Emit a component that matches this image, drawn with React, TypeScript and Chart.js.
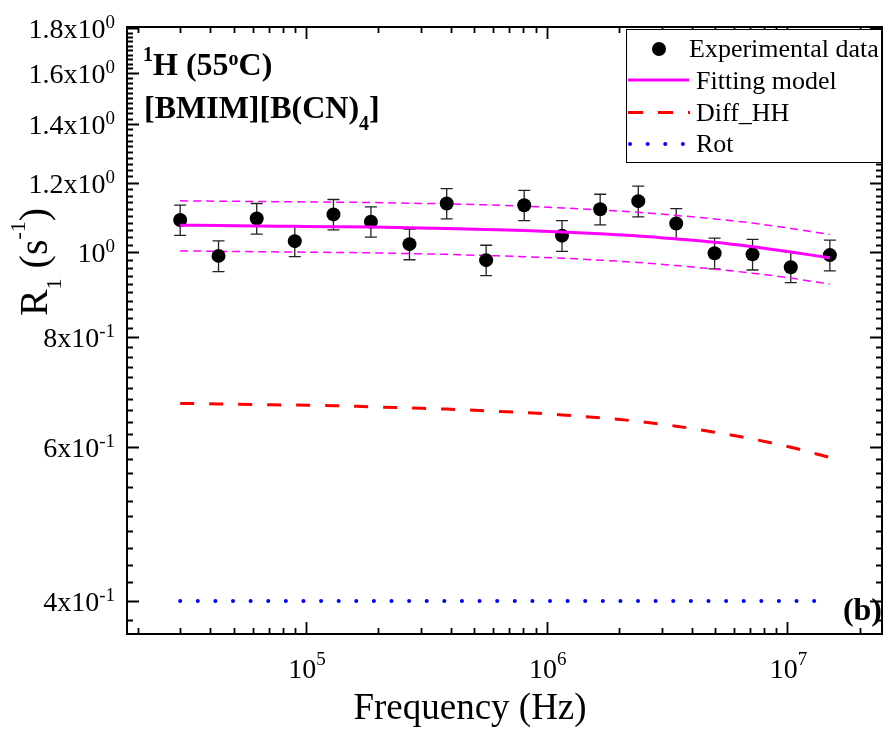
import React, { useEffect, useRef } from "react";
import { Chart, registerables } from "chart.js";

Chart.register(...registerables);

// ---- data ----
const frequencies = [3.0e4, 4.33e4, 6.24e4, 8.98e4, 1.3e5, 1.86e5, 2.69e5, 3.84e5, 5.6e5, 8.06e5, 1.157e6, 1.667e6, 2.4e6, 3.45e6, 4.98e6, 7.16e6, 1.032e7, 1.5e7];
const experimental = [1.088, 0.99, 1.092, 1.029, 1.104, 1.083, 1.021, 1.136, 0.979, 1.131, 1.044, 1.119, 1.143, 1.078, 0.997, 0.994, 0.961, 0.992];
const experimentalError = [0.043, 0.04, 0.044, 0.041, 0.044, 0.043, 0.041, 0.045, 0.039, 0.045, 0.042, 0.045, 0.046, 0.043, 0.04, 0.04, 0.038, 0.04];
const fittingModel = [1.073, 1.072, 1.071, 1.07, 1.069, 1.068, 1.066, 1.064, 1.061, 1.058, 1.054, 1.049, 1.043, 1.035, 1.026, 1.014, 1.0, 0.985];
const fitUpper = [1.144, 1.143, 1.142, 1.141, 1.14, 1.139, 1.137, 1.135, 1.132, 1.128, 1.123, 1.117, 1.11, 1.101, 1.091, 1.079, 1.064, 1.047];
const fitLower = [1.003, 1.002, 1.001, 1.0, 0.999, 0.998, 0.996, 0.994, 0.991, 0.988, 0.984, 0.979, 0.973, 0.965, 0.956, 0.946, 0.934, 0.919];
const diffHH = [0.672, 0.671, 0.67, 0.669, 0.668, 0.666, 0.664, 0.662, 0.659, 0.656, 0.652, 0.647, 0.641, 0.633, 0.623, 0.612, 0.599, 0.583];
const rot = [0.4, 0.4, 0.4, 0.4, 0.4, 0.4, 0.4, 0.4, 0.4, 0.4, 0.4, 0.4, 0.4, 0.4, 0.4, 0.4, 0.4, 0.4];

const xMajorTicks = [1e5, 1e6, 1e7];
const xTickExponents = ["5", "6", "7"];
const yMajorTicks = [0.4, 0.6, 0.8, 1.0, 1.2, 1.4, 1.6, 1.8];
const yTickMantissas = ["4x10", "6x10", "8x10", "10", "1.2x10", "1.4x10", "1.6x10", "1.8x10"];
const yTickExponents = ["-1", "-1", "-1", "0", "0", "0", "0", "0"];
const legendLabels = ["Experimental data", "Fitting model", "Diff_HH", "Rot"];

const X_MIN = 1.804e4;
const X_MAX = 2.47e7;
const Y_MIN = 0.3667;
const Y_MAX = 1.806;

const FONT = '"Liberation Serif", "Times New Roman", serif';
const MAGENTA = "#FF00FF";
const RED = "#FF0000";
const BLUE = "#0000FF";

type Part = { text: string; size: number; bold?: boolean; dy?: number };

function font(size: number, bold?: boolean) {
  return `${bold ? "bold " : ""}${size}px ${FONT}`;
}

function richWidth(ctx: CanvasRenderingContext2D, parts: Part[]) {
  let w = 0;
  for (const p of parts) {
    ctx.font = font(p.size, p.bold);
    w += ctx.measureText(p.text).width;
  }
  return w;
}

function drawRich(ctx: CanvasRenderingContext2D, parts: Part[], x: number, y: number, align: "left" | "center" | "right") {
  const w = richWidth(ctx, parts);
  let cx = align === "left" ? x : align === "center" ? x - w / 2 : x - w;
  ctx.textAlign = "left";
  ctx.textBaseline = "alphabetic";
  for (const p of parts) {
    ctx.font = font(p.size, p.bold);
    ctx.fillText(p.text, cx, y + (p.dy || 0));
    cx += ctx.measureText(p.text).width;
  }
}

const customPlugin = {
  id: "customDecor",
  beforeDatasetsDraw(chart: any) {
    const ctx: CanvasRenderingContext2D = chart.ctx;
    const xs = chart.scales.x;
    const ys = chart.scales.y;
    ctx.save();
    ctx.strokeStyle = "#222";
    ctx.lineWidth = 1.3;
    frequencies.forEach((f, i) => {
      const px = xs.getPixelForValue(f);
      const top = ys.getPixelForValue(experimental[i] + experimentalError[i]);
      const bot = ys.getPixelForValue(experimental[i] - experimentalError[i]);
      ctx.beginPath();
      ctx.moveTo(px, top);
      ctx.lineTo(px, bot);
      ctx.moveTo(px - 6, top);
      ctx.lineTo(px + 6, top);
      ctx.moveTo(px - 6, bot);
      ctx.lineTo(px + 6, bot);
      ctx.stroke();
    });
    ctx.restore();
  },
  afterDraw(chart: any) {
    const ctx: CanvasRenderingContext2D = chart.ctx;
    const xs = chart.scales.x;
    const ys = chart.scales.y;
    const { left, right, top, bottom } = chart.chartArea;
    ctx.save();
    ctx.fillStyle = "#000";
    ctx.strokeStyle = "#000";

    // ticks
    ctx.lineWidth = 1.8;
    const MAJ = 12;
    const MIN = 6;
    ctx.beginPath();
    for (let e = 4; e <= 7; e++) {
      for (let m = 1; m <= 9; m++) {
        const v = m * Math.pow(10, e);
        if (v < X_MIN || v > X_MAX) continue;
        const px = Math.round(xs.getPixelForValue(v)) + 0.5;
        const len = m === 1 ? MAJ : MIN;
        ctx.moveTo(px, bottom);
        ctx.lineTo(px, bottom - len);
        ctx.moveTo(px, top);
        ctx.lineTo(px, top + len);
      }
    }
    for (let k = 19; k <= 90; k++) {
      const v = k * 0.02;
      if (v < Y_MIN || v > Y_MAX + 1e-9) continue;
      const py = Math.round(ys.getPixelForValue(v)) + 0.5;
      const len = k % 10 === 0 ? MAJ : MIN;
      ctx.moveTo(left, py);
      ctx.lineTo(left + len, py);
      ctx.moveTo(right, py);
      ctx.lineTo(right - len, py);
    }
    ctx.stroke();

    // frame
    ctx.lineWidth = 2;
    ctx.strokeRect(left, top, right - left, bottom - top);

    // y tick labels
    yMajorTicks.forEach((v, i) => {
      const py = ys.getPixelForValue(v);
      ctx.font = font(19);
      const supW = ctx.measureText(yTickExponents[i]).width;
      const xr = left - 12;
      drawRich(ctx, [{ text: yTickMantissas[i], size: 28 }], xr - supW, py + 10, "right");
      drawRich(ctx, [{ text: yTickExponents[i], size: 19 }], xr - supW, py, "left");
    });

    // x tick labels
    xMajorTicks.forEach((v, i) => {
      const px = xs.getPixelForValue(v);
      drawRich(
        ctx,
        [
          { text: "10", size: 28 },
          { text: xTickExponents[i], size: 19, dy: -13 },
        ],
        px + 1,
        678,
        "center"
      );
    });

    // x axis title
    drawRich(ctx, [{ text: "Frequency (Hz)", size: 37 }], 470, 719, "center");

    // y axis title
    ctx.save();
    ctx.translate(47, 262);
    ctx.rotate(-Math.PI / 2);
    drawRich(
      ctx,
      [
        { text: "R", size: 40 },
        { text: "1", size: 22, dy: 14 },
        { text: " (s", size: 40 },
        { text: "-1", size: 22, dy: -22 },
        { text: ")", size: 40 },
      ],
      0,
      0,
      "center"
    );
    ctx.restore();

    // annotation text
    drawRich(
      ctx,
      [
        { text: "1", size: 20, bold: true, dy: -14 },
        { text: "H (55", size: 32, bold: true },
        { text: "o", size: 20, bold: true, dy: -10 },
        { text: "C)", size: 32, bold: true },
      ],
      143,
      75,
      "left"
    );
    drawRich(
      ctx,
      [
        { text: "[BMIM][B(CN)", size: 32, bold: true },
        { text: "4", size: 20, bold: true, dy: 12 },
        { text: "]", size: 32, bold: true },
      ],
      144,
      118,
      "left"
    );
    drawRich(ctx, [{ text: "(b)", size: 32, bold: true }], 882, 620, "right");

    // legend
    ctx.fillStyle = "#fff";
    ctx.fillRect(626, 29, 255, 133);
    ctx.lineWidth = 1;
    ctx.strokeStyle = "#000";
    ctx.strokeRect(626.5, 29.5, 255, 133);
    ctx.fillStyle = "#000";
    ctx.beginPath();
    ctx.arc(659, 49, 7, 0, Math.PI * 2);
    ctx.fill();
    drawRich(ctx, [{ text: legendLabels[0], size: 26 }], 689, 57, "left");

    ctx.lineWidth = 3;
    ctx.strokeStyle = MAGENTA;
    ctx.beginPath();
    ctx.moveTo(628, 80);
    ctx.lineTo(689, 80);
    ctx.stroke();
    drawRich(ctx, [{ text: legendLabels[1], size: 26 }], 696, 89, "left");

    ctx.strokeStyle = RED;
    ctx.setLineDash([15, 15]);
    ctx.beginPath();
    ctx.moveTo(628, 112.5);
    ctx.lineTo(690, 112.5);
    ctx.stroke();
    ctx.setLineDash([]);
    drawRich(ctx, [{ text: legendLabels[2], size: 26 }], 696, 121, "left");

    ctx.strokeStyle = BLUE;
    ctx.lineWidth = 4;
    ctx.lineCap = "round";
    ctx.setLineDash([0.01, 17.6]);
    ctx.beginPath();
    ctx.moveTo(630, 144);
    ctx.lineTo(690, 144);
    ctx.stroke();
    ctx.setLineDash([]);
    ctx.lineCap = "butt";
    drawRich(ctx, [{ text: legendLabels[3], size: 26 }], 696, 152, "left");

    ctx.restore();
  },
};

function pts(ys: number[]) {
  return frequencies.map((f, i) => ({ x: f, y: ys[i] }));
}

export default function App() {
  const ref = useRef<HTMLCanvasElement | null>(null);
  useEffect(() => {
    if (!ref.current) return;
    const curve = (label: string, values: number[], extra: any) =>
      ({
        label,
        data: pts(values),
        showLine: true,
        pointRadius: 0,
        cubicInterpolationMode: "monotone",
        ...extra,
      } as any);
    const chart = new Chart(ref.current, {
      type: "scatter",
      data: {
        datasets: [
          curve(legendLabels[1], fittingModel, { borderColor: MAGENTA, borderWidth: 3, order: 0 }),
          {
            label: legendLabels[0],
            data: pts(experimental),
            showLine: false,
            backgroundColor: "#000",
            borderWidth: 0,
            pointRadius: 7,
            pointHoverRadius: 7,
            order: 1,
          },
          curve("upper", fitUpper, { borderColor: MAGENTA, borderWidth: 1.5, borderDash: [8, 5], order: 2 }),
          curve("lower", fitLower, { borderColor: MAGENTA, borderWidth: 1.5, borderDash: [8, 5], order: 2 }),
          curve(legendLabels[2], diffHH, { borderColor: RED, borderWidth: 3, borderDash: [14, 15], order: 2 }),
          curve(legendLabels[3], rot, {
            borderColor: BLUE,
            borderWidth: 4,
            borderDash: [0.01, 17.6],
            borderCapStyle: "round",
            order: 2,
          }),
        ],
      },
      options: {
        animation: false,
        responsive: false,
        devicePixelRatio: 1,
        layout: { padding: { left: 127, top: 27, right: 3, bottom: 99 } },
        plugins: { legend: { display: false }, tooltip: { enabled: false } },
        events: [],
        scales: {
          x: { type: "logarithmic", min: X_MIN, max: X_MAX, display: false },
          y: { type: "logarithmic", min: Y_MIN, max: Y_MAX, display: false },
        },
      },
      plugins: [customPlugin],
    });
    return () => chart.destroy();
  }, []);
  return (
    <div style={{ position: "fixed", left: 0, top: 0, width: 889, height: 733, background: "#fff" }}>
      <canvas ref={ref} width={889} height={733} style={{ width: 889, height: 733, display: "block" }} />
    </div>
  );
}
